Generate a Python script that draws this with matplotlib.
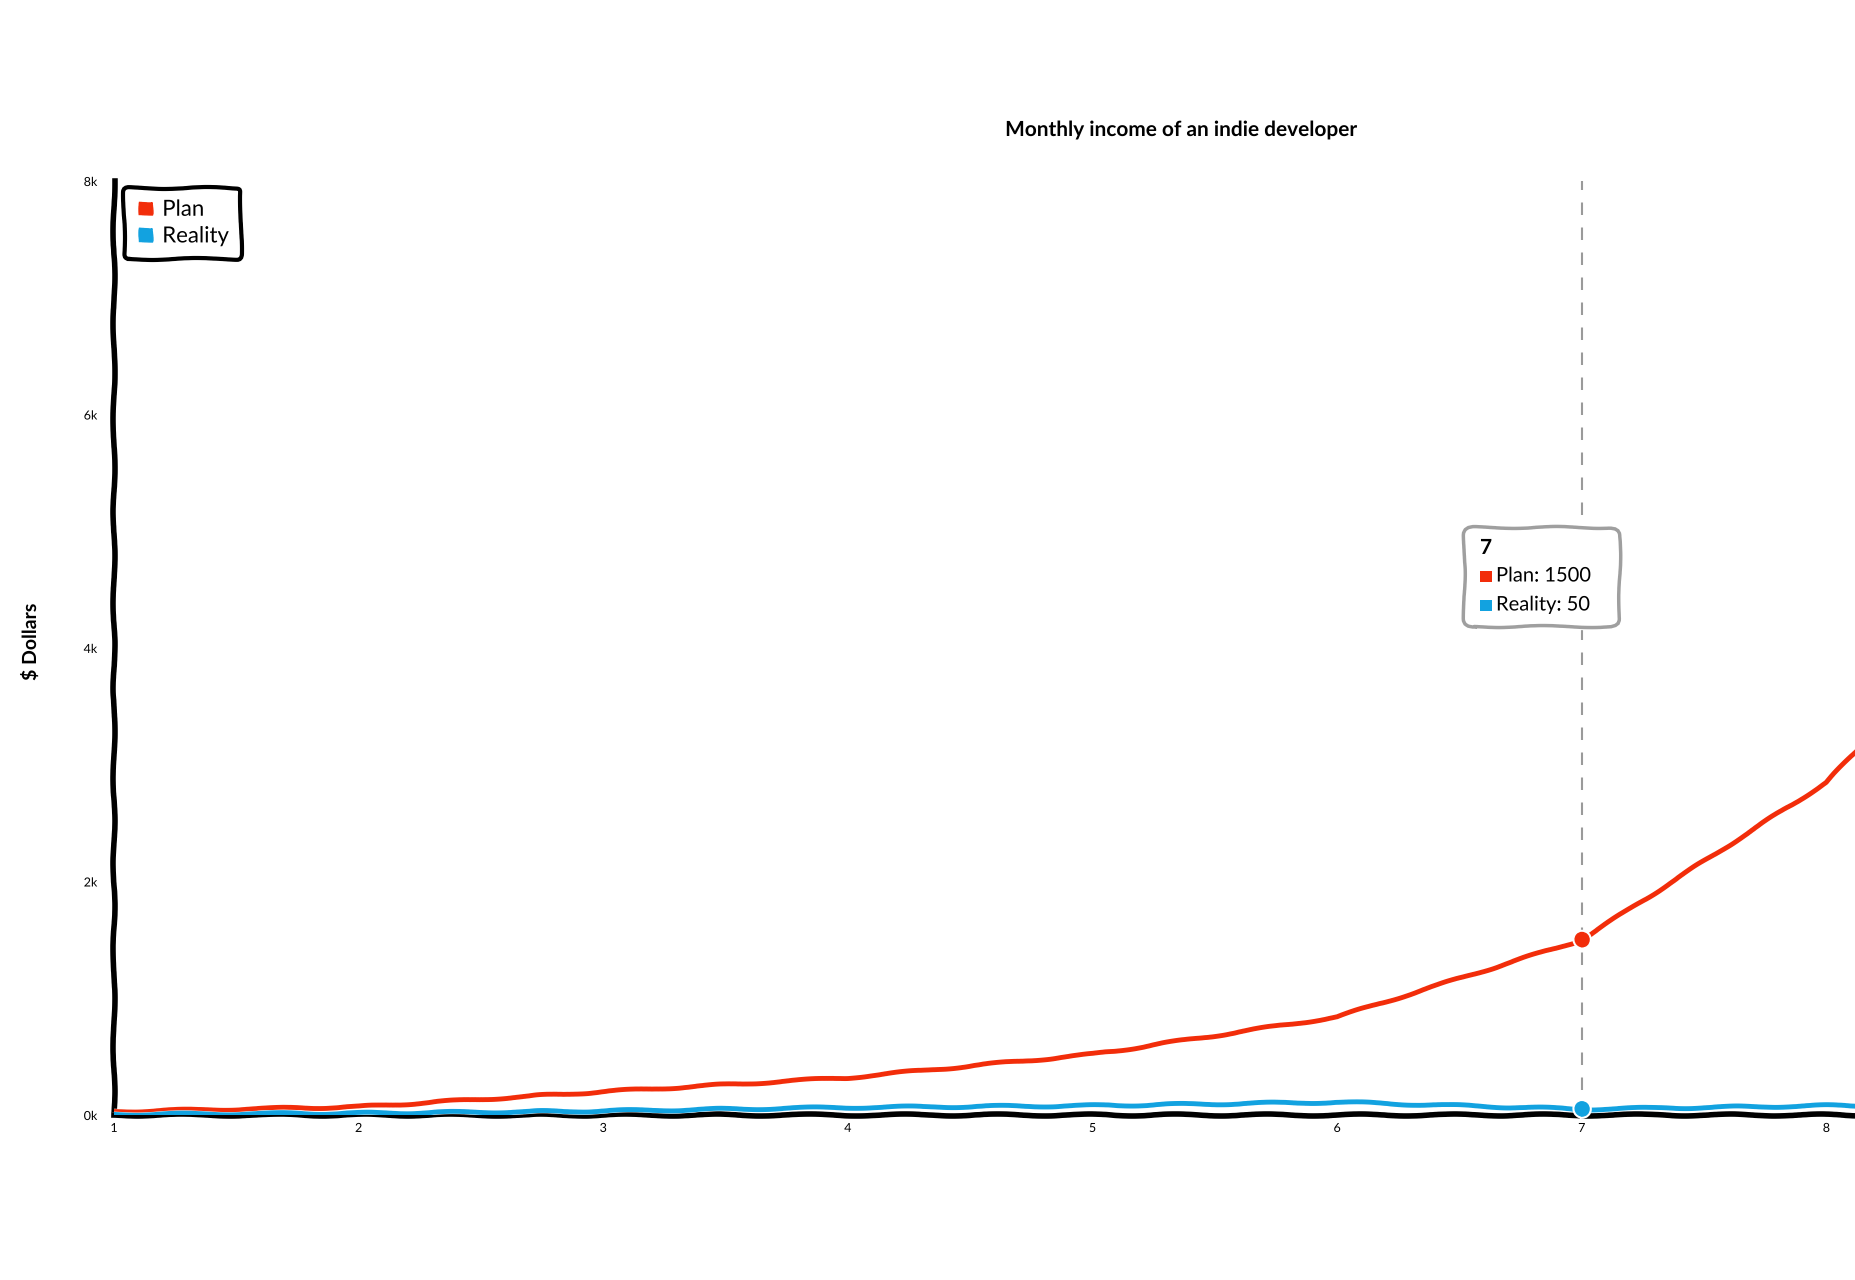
import matplotlib
matplotlib.use('Agg')
import matplotlib.pyplot as plt
from matplotlib.patches import FancyBboxPatch
from matplotlib.lines import Line2D

# ---- data ----
months = [1, 2, 3, 4, 5, 6, 7, 8, 9, 10]
plan = [30, 70, 200, 320, 520, 840, 1500, 2850, 5000, 8000]
reality = [5, 15, 35, 65, 80, 110, 50, 80, 90, 100]
series_names = ['Plan', 'Reality']
y_ticks = [0, 2000, 4000, 6000, 8000]
y_tick_labels = ['0k', '2k', '4k', '6k', '8k']
x_ticks = [1, 2, 3, 4, 5, 6, 7, 8]
x_tick_labels = ['1', '2', '3', '4', '5', '6', '7', '8']
title = 'Monthly income of an indie developer'
y_label = '$ Dollars'
hover_month = 7
hover_plan = 1500
hover_reality = 50

colors = ['#f22d0a', '#12a2e0']

W, H = 1856, 1280


def fx(x):
    return x / W


def fy(y):
    return 1 - y / H


with plt.xkcd(scale=1, length=100, randomness=2):
    plt.rcParams['font.family'] = ['Lato', 'DejaVu Sans']
    fig = plt.figure(figsize=(W / 100, H / 100), dpi=100)
    fig.patch.set_facecolor('white')
    ax = fig.add_axes([fx(114), fy(1115), (W - 114) / W, (1115 - 181) / H])
    ax.set_facecolor('white')

    ax.set_xlim(1, 8.121)
    ax.set_ylim(0, 8000)

    for s in ['top', 'right']:
        ax.spines[s].set_visible(False)
    for s in ['left', 'bottom']:
        ax.spines[s].set_linewidth(4)
        ax.spines[s].set_color('black')

    ax.set_yticks(y_ticks)
    ax.set_yticklabels(y_tick_labels)
    ax.set_xticks(x_ticks)
    ax.set_xticklabels(x_tick_labels)
    ax.tick_params(axis='both', length=0, labelsize=9)
    ax.tick_params(axis='y', pad=12)
    ax.tick_params(axis='x', pad=5)

    # hover dashed line
    vl = ax.axvline(hover_month, color='#9a9a9a', lw=1.5, ls=(0, (6, 6)), zorder=1)
    vl.set_sketch_params(0)

    ax.plot(months, plan, color=colors[0], lw=3.5, zorder=3, clip_on=True)
    ax.plot(months, reality, color=colors[1], lw=3.5, zorder=3, clip_on=True)

    hi = months.index(hover_month)
    ax.plot([hover_month], [plan[hi]], 'o', color=colors[0], ms=10, zorder=4)
    ax.plot([hover_month], [reality[hi]], 'o', color=colors[1], ms=10, zorder=4,
            clip_on=False)

    # legend
    handles = [Line2D([], [], marker='s', ls='none', color=c, markersize=9)
               for c in colors]
    leg = ax.legend(handles, series_names, loc='upper left',
                    bbox_to_anchor=(0.006, 0.993), borderaxespad=0,
                    fontsize=16, handlelength=0.8, handletextpad=0.35,
                    labelspacing=0.3, borderpad=0.55, fancybox=True,
                    framealpha=1)
    fr = leg.get_frame()
    fr.set_edgecolor('black')
    fr.set_linewidth(3)

    # title and y label
    fig.text(fx(1182), fy(130), title, ha='center', va='center',
             fontsize=15, fontweight='bold')
    fig.text(fx(30), fy(642), y_label, ha='center', va='center',
             rotation=90, fontsize=14, fontweight='bold')

    # tooltip
    box = FancyBboxPatch((fx(1468), fy(624)), fx(1616) - fx(1468),
                         fy(530) - fy(624),
                         boxstyle='round,pad=0.002,rounding_size=0.006',
                         transform=fig.transFigure, facecolor='white',
                         edgecolor='#9f9f9f', lw=2.5, zorder=10)
    fig.patches.append(box)
    fig.text(fx(1480), fy(548), str(hover_month), ha='left', va='center',
             fontsize=15, fontweight='bold', zorder=11)
    rows = [(576, 0, f'{series_names[0]}: {hover_plan}'),
            (605, 1, f'{series_names[1]}: {hover_reality}')]
    for ypix, ci, txt in rows:
        fig.text(fx(1486), fy(ypix), '\u25A0', color=colors[ci], ha='center',
                 va='center', fontsize=11, zorder=11,
                 family=['DejaVu Sans'])
        fig.text(fx(1496), fy(ypix), txt, ha='left', va='center',
                 fontsize=14.5, zorder=11)

    fig.savefig('out.png', dpi=100, facecolor='white')
